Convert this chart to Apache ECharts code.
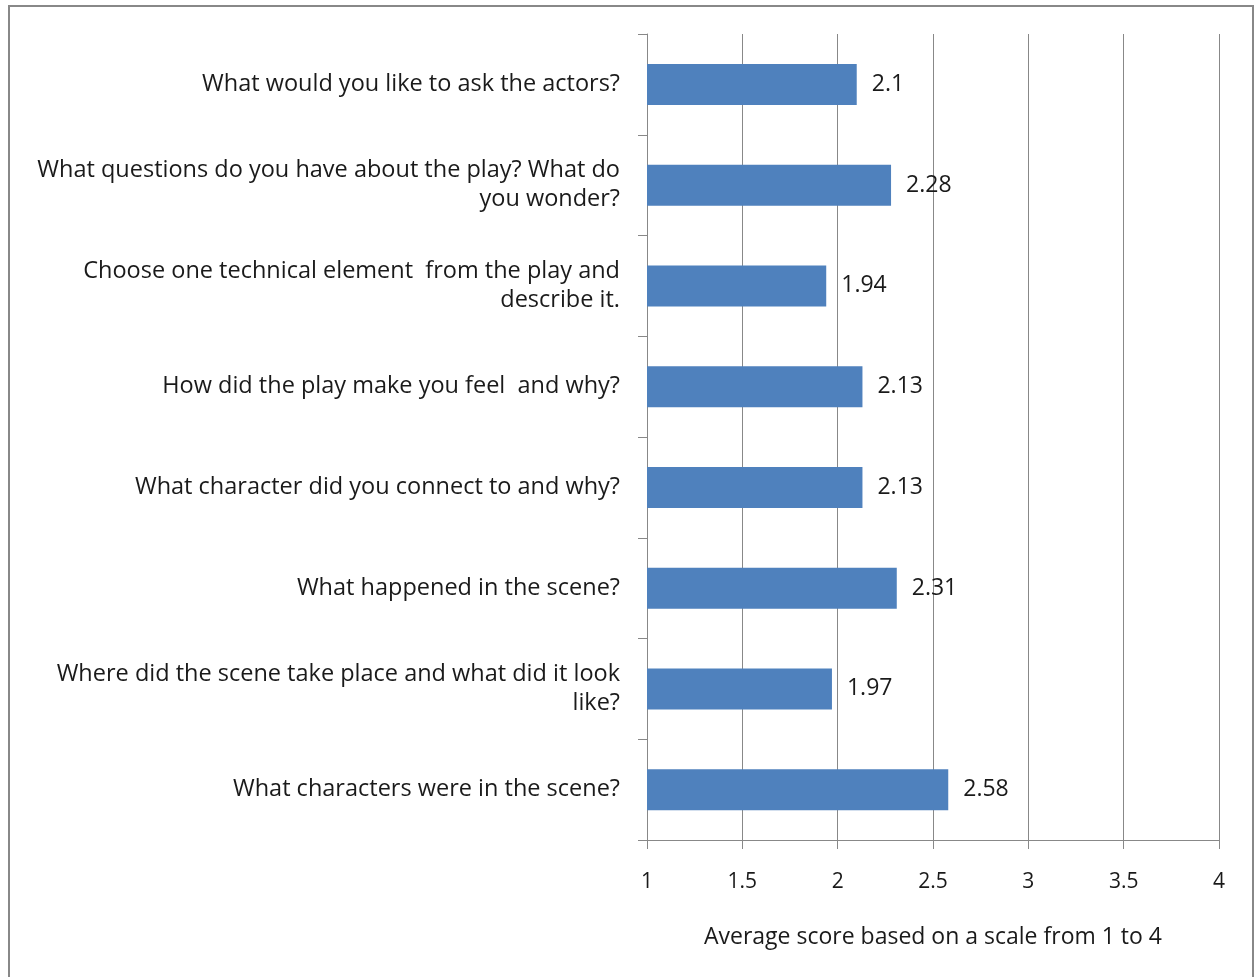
<!DOCTYPE html>
<html>
<head>
<meta charset="utf-8">
<script src="https://cdn.jsdelivr.net/npm/echarts@6/dist/echarts.min.js"></script>
<style>
  html, body { margin: 0; padding: 0; background: #fff; }
  #frame { position: absolute; left: 8px; top: 5px; width: 1246px; height: 980px; border: 2px solid #888; box-sizing: border-box; }
  #chart { position: absolute; left: 0; top: 0; width: 1257px; height: 977px; }
</style>
</head>
<body>
<div id="frame"></div>
<div id="chart"></div>
<script>
// questions, top to bottom
const questions = [
  'What would you like to ask the actors?',
  'What questions do you have about the play? What do\nyou wonder?',
  'Choose one technical element  from the play and\ndescribe it.',
  'How did the play make you feel  and why?',
  'What character did you connect to and why?',
  'What happened in the scene?',
  'Where did the scene take place and what did it look\nlike?',
  'What characters were in the scene?'
];
const scores = [2.1, 2.28, 1.94, 2.13, 2.13, 2.31, 1.97, 2.58];
const xTicks = [1, 1.5, 2, 2.5, 3, 3.5, 4];
const axisTitle = 'Average score based on a scale from 1 to 4';

const font = '"Open Sans", "Liberation Sans", sans-serif';
const chart = echarts.init(document.getElementById('chart'), null, { renderer: 'canvas' });

chart.setOption({
  animation: false,
  grid: { left: 647, right: 38, top: 34, bottom: 137, containLabel: false },
  xAxis: {
    type: 'value',
    min: xTicks[0],
    max: xTicks[xTicks.length - 1],
    interval: 0.5,
    name: axisTitle,
    nameLocation: 'middle',
    nameGap: 86,
    nameTextStyle: { fontFamily: font, fontSize: 23, color: '#1a1a1a' },
    axisLine: { show: true, onZero: false, lineStyle: { color: '#888', width: 1 } },
    axisTick: { show: true, length: 9, lineStyle: { color: '#888' } },
    axisLabel: { margin: 32, fontFamily: font, fontSize: 21, color: '#1a1a1a' },
    splitLine: { show: true, lineStyle: { color: '#888', width: 1 } }
  },
  yAxis: {
    type: 'category',
    inverse: true,
    data: questions,
    axisLine: { show: true, lineStyle: { color: '#888', width: 1 } },
    axisTick: { show: true, length: 9, lineStyle: { color: '#888' } },
    axisLabel: {
      margin: 27,
      fontFamily: font,
      fontSize: 23.5,
      lineHeight: 29,
      color: '#1a1a1a',
      align: 'right',
      padding: [3, 0, 0, 0]
    },
    splitLine: { show: false }
  },
  series: [{
    type: 'bar',
    data: scores,
    barWidth: 41,
    itemStyle: { color: '#4F81BD' },
    label: {
      show: true,
      position: 'right',
      distance: 15,
      fontFamily: font,
      fontSize: 23,
      color: '#1a1a1a'
    }
  }]
});
</script>
</body>
</html>
